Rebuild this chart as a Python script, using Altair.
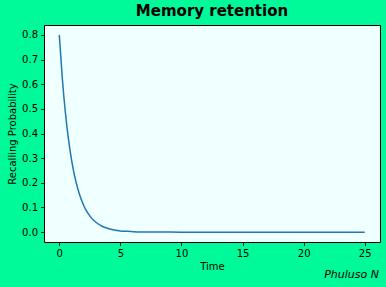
import altair as alt
import pandas as pd

time_vals = [0, 0.25, 0.5, 0.75, 1, 1.25, 1.5, 1.75, 2, 2.25, 2.5, 2.75, 3, 3.5, 4, 4.5, 5, 5.5, 6, 7, 8, 10, 15, 20, 25]
prob_vals = [0.80, 0.623, 0.485, 0.378, 0.294, 0.229, 0.179, 0.139, 0.108, 0.084, 0.066, 0.051, 0.040,
             0.024, 0.015, 0.009, 0.005, 0.0033, 0.002, 0.0007, 0.0003, 0.00004, 0.0, 0.0, 0.0]
x_ticks = [0, 5, 10, 15, 20, 25]
y_ticks = [0.0, 0.1, 0.2, 0.3, 0.4, 0.5, 0.6, 0.7, 0.8]

df = pd.DataFrame({"t": time_vals, "p": prob_vals})

W, H = 336, 217

line = alt.Chart(df).mark_line(color="#1f77b4", strokeWidth=1.5, interpolate="monotone").encode(
    x=alt.X("t:Q", title="Time", scale=alt.Scale(domain=[-1.25, 26.25], nice=False, zero=False),
            axis=alt.Axis(values=x_ticks, format="d")),
    y=alt.Y("p:Q", title="Recalling Probability", scale=alt.Scale(domain=[-0.04, 0.84], nice=False, zero=False),
            axis=alt.Axis(values=y_ticks, format=".1f")),
)

credit = alt.Chart(pd.DataFrame({"c": ["Phuluso N"]})).mark_text(
    align="right", baseline="alphabetic", fontStyle="italic", fontSize=11, font="DejaVu Sans", color="black"
).encode(text="c:N", x=alt.value(W - 1), y=alt.value(H + 36))

chart = (line + credit).properties(
    width=W, height=H,
    title=alt.TitleParams("Memory retention", fontSize=15, fontWeight="bold", font="DejaVu Sans",
                          color="black", offset=6, anchor="middle"),
    background="#00FA9A",
    autosize=alt.AutoSizeParams(type="none"),
    padding={"left": 44, "top": 25, "right": 6, "bottom": 45},
).configure_view(
    fill="#F0FFFF", stroke="black", strokeWidth=1
).configure_axis(
    grid=False, domain=False, tickColor="black", tickSize=3.5, tickWidth=0.8,
    labelFont="DejaVu Sans", labelFontSize=10, labelColor="black", labelPadding=3,
    titleFont="DejaVu Sans", titleFontSize=10, titleFontWeight="normal", titleColor="black",
).configure_axisY(titlePadding=4).configure_axisX(titlePadding=3)

chart.save("out.html", embed_options={"renderer": "svg", "actions": False})
